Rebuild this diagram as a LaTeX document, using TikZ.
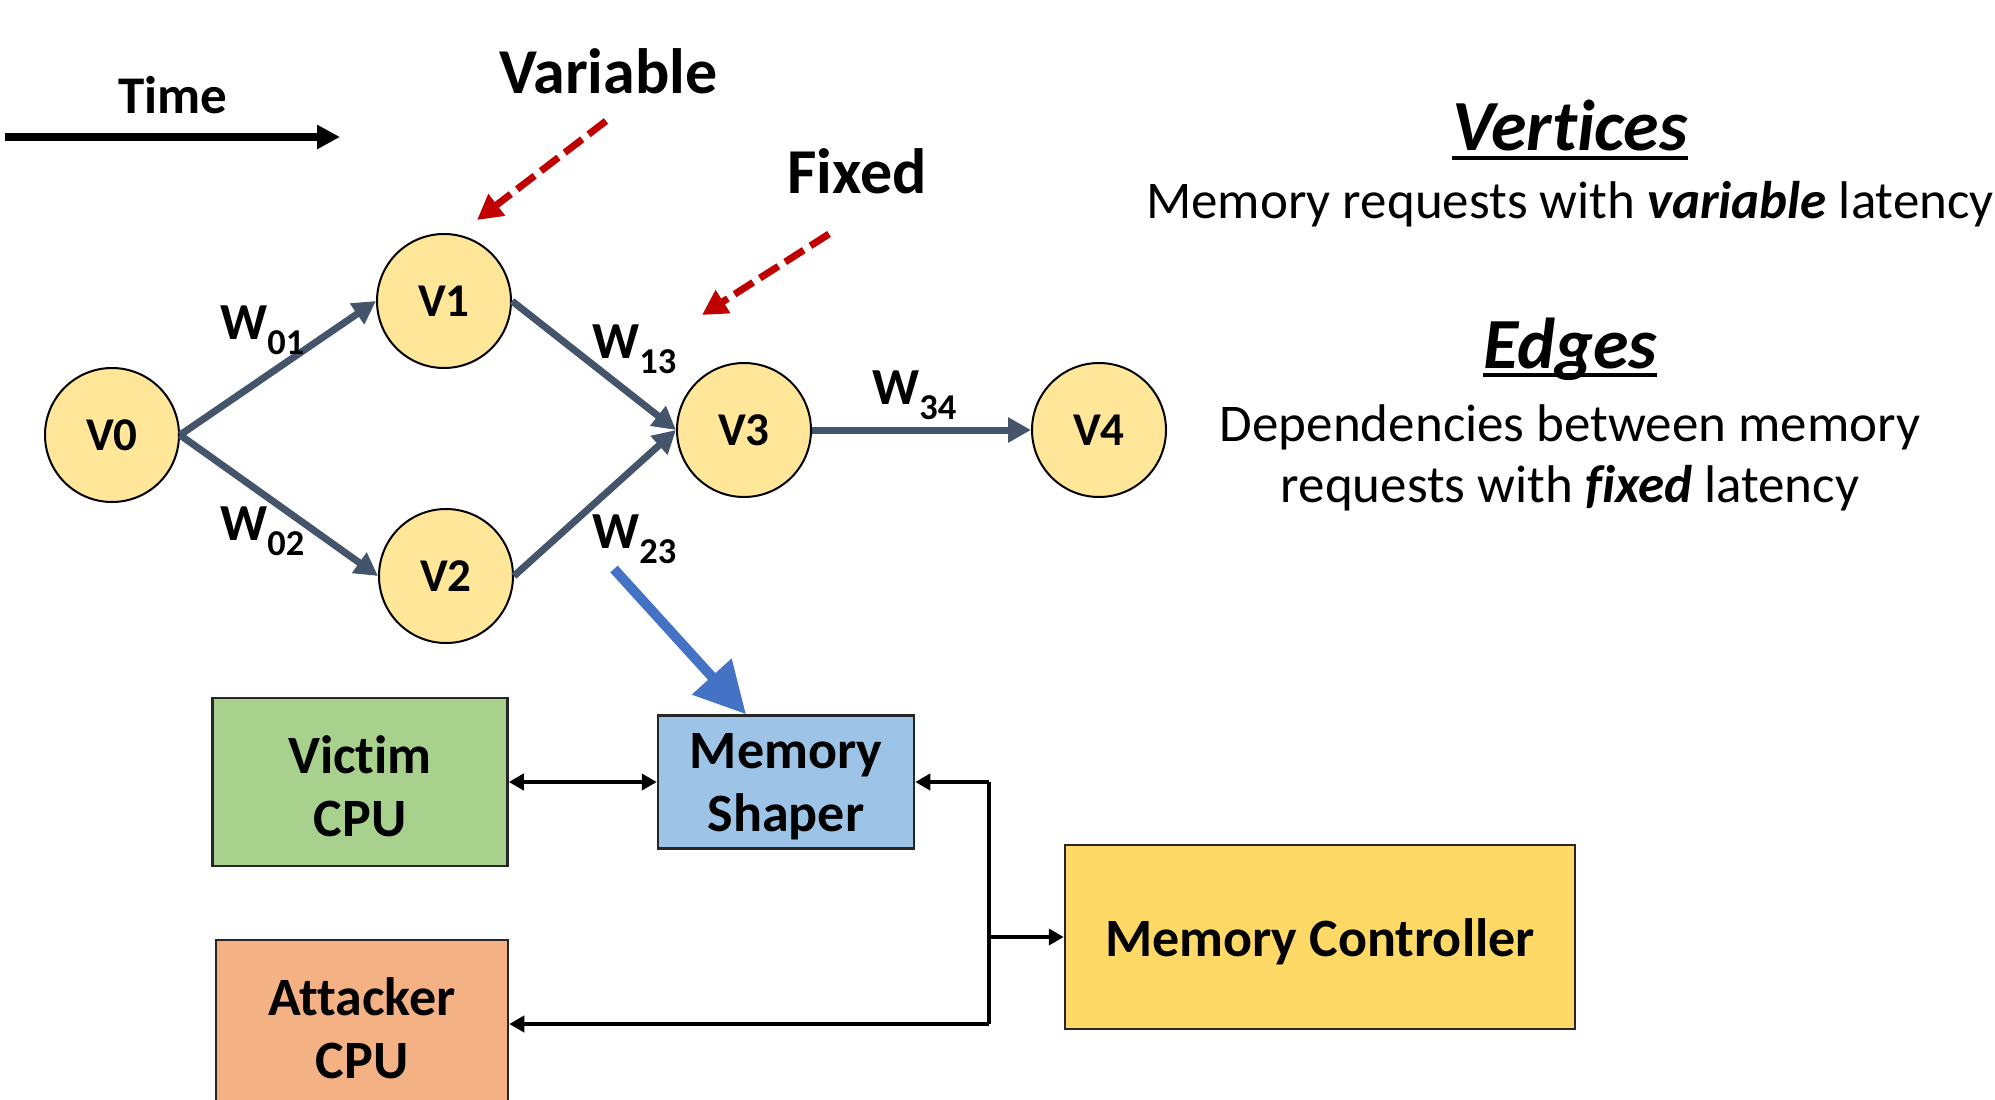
\documentclass[tikz,border=0pt]{standalone}
\usepackage{fontspec}
\setmainfont{Carlito}[Ligatures=NoCommon]
\usetikzlibrary{arrows.meta}
\definecolor{vfill}{HTML}{FFE699}
\definecolor{edgec}{HTML}{44546A}
\definecolor{redc}{HTML}{C00000}
\definecolor{bluec}{HTML}{4472C4}
\definecolor{victimc}{HTML}{A9D18E}
\definecolor{shaperc}{HTML}{9DC3E6}
\definecolor{mcc}{HTML}{FFD966}
\definecolor{attc}{HTML}{F4B183}
\begin{document}
\begin{tikzpicture}[x=1pt,y=-1pt,
  vtx/.style={circle,draw=black,line width=2pt,fill=vfill,minimum size=134pt,inner sep=0pt,font=\fontsize{47}{56}\selectfont\bfseries},
  gedge/.style={draw=edgec,line width=7pt,-{Triangle[length=23pt,width=24pt]}},
  wlab/.style={anchor=base west,inner sep=0pt,font=\fontsize{52}{60}\selectfont\bfseries},
  redarrow/.style={draw=redc,line width=7pt,dash pattern=on 22pt off 8pt,-{Triangle[length=25pt,width=26pt]}},
  bigtext/.style={anchor=base west,inner sep=0pt,font=\fontsize{64}{74}\selectfont\bfseries},
  blk/.style={draw=black!85,line width=2.5pt,inner sep=0pt},
  blktext/.style={inner sep=0pt,align=center,font=\fontsize{54}{63}\selectfont\bfseries},
  conn/.style={draw=black,line width=4pt},
  tip/.style={-{Triangle[length=15pt,width=16pt]}},
  title/.style={anchor=base,inner sep=0pt,font=\fontsize{72}{84}\selectfont\bfseries\itshape},
  body/.style={anchor=base,inner sep=0pt,font=\fontsize{53}{64}\selectfont},
]
\useasboundingbox (0,0) rectangle (1995,1100);
\clip (0,0) rectangle (1995,1100);

% Time
\node[anchor=base west,inner sep=0pt,font=\fontsize{53}{62}\selectfont\bfseries] (time) at (118,113) {Time};
\coordinate (t0) at (5,137);
\coordinate (t1) at (340,137);
\draw[line width=8pt,-{Triangle[length=23pt,width=23pt]}] (t0) -- (t1);

% Vertices
\node[vtx] (v0) at (112,435) {V0};
\node[vtx] (v1) at (444,301) {V1};
\node[vtx] (v2) at (446,576) {V2};
\node[vtx] (v3) at (744,430) {V3};
\node[vtx] (v4) at (1099,430) {V4};

\draw[gedge] (v0.east) -- (v1.west);
\draw[gedge] (v0.east) -- (v2.west);
\draw[gedge] (v1.east) -- (v3.west);
\draw[gedge] (v2.east) -- (v3.west);
\draw[gedge] (v3.east) -- (v4.west);

\node[wlab] (w01) at (220,339) {W\textsubscript{01}};
\node[wlab] (w02) at (220,540) {W\textsubscript{02}};
\node[wlab] (w13) at (592,358) {W\textsubscript{13}};
\node[wlab] (w23) at (592,548) {W\textsubscript{23}};
\node[wlab] (w34) at (872,404) {W\textsubscript{34}};

% Variable / Fixed
\node[bigtext] (var) at (499,93) {Variable};
\node[bigtext] (fix) at (787,193) {Fixed};
\coordinate (r1s) at (606,121);
\coordinate (r1e) at (477,220);
\coordinate (r2s) at (829,234);
\coordinate (r2e) at (702,315);
\draw[redarrow] (r1s) -- (r1e);
\draw[redarrow] (r2s) -- (r2e);

% Right-hand text
\node[title] (vt) at (1570,150) {Vertices};
\draw[line width=4pt] ([yshift=-8pt]vt.base west) -- ([yshift=-8pt]vt.base east);
\node[body] (vd) at (1570,218) {Memory requests with \textbf{\textit{variable}} latency};
\node[title] (et) at (1570,368) {Edges};
\draw[line width=4pt] ([yshift=-7pt]et.base west) -- ([yshift=-7pt]et.base east);
\node[body] (ed1) at (1570,441) {Dependencies between memory};
\node[body] (ed2) at (1570,502) {requests with \textbf{\textit{fixed}} latency};

% Blocks
\node[blk,fill=victimc,minimum width=295pt,minimum height=168pt] (vc) at (360,782) {};
\node[blktext] (vct) at ([yshift=-4pt]vc.center) {Victim\\CPU};
\node[blk,fill=shaperc,minimum width=256pt,minimum height=133pt] (ms) at (786,782) {};
\node[blktext] (mst) at ([yshift=-5pt]ms.center) {Memory\\Shaper};
\node[blk,fill=mcc,minimum width=510pt,minimum height=184pt] (mc) at (1320,937) {};
\node[blktext] (mct) at ([yshift=-5pt]mc.center) {Memory Controller};
\node[blk,fill=attc,minimum width=292pt,minimum height=168pt] (ac) at (362,1024) {};
\node[blktext] (act) at ([yshift=-4pt]ac.center) {Attacker\\CPU};

% Blue arrow
\coordinate (bs) at (614,569);
\draw[draw=bluec,line width=10pt,-{Triangle[length=51pt,width=51pt]}] (bs) -- ([xshift=-40pt]ms.north);

% Connectors
\draw[conn,{Triangle[length=15pt,width=16pt]}-{Triangle[length=15pt,width=16pt]}] (vc.east) -- (ms.west);
\coordinate (bt) at (989,782);
\coordinate (bm) at (989,937);
\coordinate (bb) at (989,1024);
\draw[conn] (bt) -- (bb);
\draw[conn,tip] (bt) -- (ms.east);
\draw[conn,tip] (bm) -- (mc.west);
\draw[conn,tip] (bb) -- (ac.east);
\end{tikzpicture}
\end{document}
